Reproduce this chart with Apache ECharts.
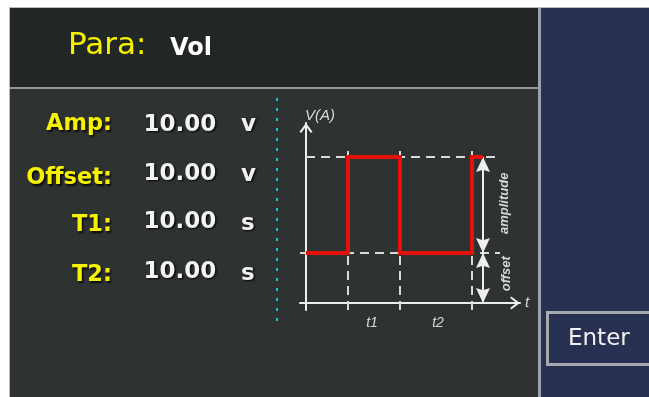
<!DOCTYPE html>
<html>
<head>
<meta charset="utf-8">
<script src="https://cdn.jsdelivr.net/npm/echarts@6/dist/echarts.min.js"></script>
<style>html,body{margin:0;padding:0;background:#fff}#c{width:649px;height:397px}</style>
</head>
<body>
<div id="c"></div>
<script>
// ---- data ----
const paraTitle = 'Para:';
const paraValue = 'Vol';
const paramLabels = ['Amp:', 'Offset:', 'T1:', 'T2:'];
const paramValues = ['10.00', '10.00', '10.00', '10.00'];
const paramUnits = ['v', 'v', 's', 's'];
// schematic square wave (diagram units)
const waveX = [0, 4.2, 4.2, 9.4, 9.4, 16.6, 16.6, 17.7];
const waveY = [5, 5, 14.6, 14.6, 5, 5, 14.6, 14.6];
const edgeX = [4.2, 9.4, 16.6];
const lowLevel = 5;
const highLevel = 14.6;
const periodLabels = ['t1', 't2'];
const measureLabels = ['amplitude', 'offset'];
const axisNames = ['t', 'V(A)'];
const buttonText = 'Enter';

// ---- styles ----
const WHITE = '#eeeeee', YELLOW = '#f6f200', GUIDE = '#d9d9d9', RED = '#e3120b', DTEXT = '#d8d8d8';
const chevron = 'path://M0,8.6 L6.5,0 L13,8.6 L11.4,9.8 L6.5,3.3 L1.6,9.8 Z';
const arrowHead = 'path://M7,0 L14,15 L7,12.8 L0,15 Z';

const chart = echarts.init(document.getElementById('c'), null, {renderer: 'canvas'});

const Y_MIN = -0.7;
const wavePoints = waveX.map((x, i) => [x, waveY[i]]);
const guideLines = edgeX.map(x => [{coord: [x, Y_MIN]}, {coord: [x, 15.3]}]).concat([
  [{coord: [0, highLevel]}, {coord: [19.2, highLevel]}],
  [{coord: [-0.6, lowLevel]}, {coord: [19.4, lowLevel]}]
]);
const arrowX = waveX[waveX.length - 1];
const measureLines = [
  [{coord: [arrowX, lowLevel]}, {coord: [arrowX, highLevel]}],
  [{coord: [arrowX, 0]}, {coord: [arrowX, lowLevel]}]
];

const axisCommon = {
  type: 'value',
  axisTick: {show: false},
  axisLabel: {show: false},
  splitLine: {show: false},
  axisLine: {
    show: true, onZero: true,
    symbol: ['none', chevron], symbolSize: [13, 10], symbolOffset: [0, -5],
    lineStyle: {color: WHITE, width: 2}
  }
};

chart.setOption({
  backgroundColor: '#ffffff',
  animation: false,
  grid: {left: 300, right: 129, top: 123, bottom: 87, containLabel: false, outerBoundsMode: 'none'},
  xAxis: Object.assign({}, axisCommon, {
    min: -0.6, max: 21.4,
    name: axisNames[0], nameLocation: 'end', nameGap: 5,
    nameTextStyle: {color: DTEXT, fontFamily: 'Liberation Sans', fontStyle: 'italic', fontSize: 15}
  }),
  yAxis: Object.assign({}, axisCommon, {min: Y_MIN, max: 18}),
  series: [
    {
      type: 'line', data: [], silent: true, z: 3,
      markLine: {
        silent: true, symbol: ['none', 'none'], label: {show: false},
        lineStyle: {color: GUIDE, width: 2, type: [9, 6]},
        emphasis: {disabled: true},
        data: guideLines
      }
    },
    {
      type: 'line', data: [], silent: true, z: 4,
      markLine: {
        silent: true, symbol: [arrowHead, arrowHead], symbolSize: [14, 15],
        symbolOffset: [[0, '50%'], [0, '50%']],
        label: {show: false},
        lineStyle: {color: WHITE, width: 2, type: 'solid'},
        emphasis: {disabled: true},
        data: measureLines
      }
    },
    {
      type: 'line', data: wavePoints, z: 20, silent: true,
      symbol: 'none', showSymbol: false,
      lineStyle: {color: RED, width: 4, join: 'miter'}
    }
  ]
});

const P = (x, y) => chart.convertToPixel({gridIndex: 0}, [x, y]);

function txt(text, x, y, font, fill, align, extra, rot) {
  const st = Object.assign({
    text: text, font: font, fill: fill,
    align: align, verticalAlign: 'middle',
    textAlign: align, textVerticalAlign: 'middle'
  }, extra || {});
  return {type: 'text', x: x, y: y, rotation: rot || 0, z: 50, silent: true, style: st};
}
const shadow = {textShadowColor: 'rgba(0,0,0,0.8)', textShadowBlur: 2, textShadowOffsetX: 1.5, textShadowOffsetY: 1.5};

const g = [
  {type: 'rect', z: -10, silent: true, shape: {x: 9, y: 7, width: 640, height: 390}, style: {fill: '#b7bbc0'}},
  {type: 'rect', z: -9, silent: true, shape: {x: 10, y: 8, width: 528, height: 79}, style: {fill: '#222725'}},
  {type: 'rect', z: -9, silent: true, shape: {x: 10, y: 87, width: 528, height: 2}, style: {fill: '#8e96a0'}},
  {type: 'rect', z: -9, silent: true, shape: {x: 10, y: 89, width: 528, height: 308}, style: {fill: '#2e3231'}},
  {type: 'rect', z: -9, silent: true, shape: {x: 538, y: 8, width: 3, height: 389}, style: {fill: '#9aa1a9'}},
  {type: 'rect', z: -9, silent: true, shape: {x: 541, y: 8, width: 108, height: 389}, style: {fill: '#283152'}},
  {type: 'rect', z: -8, silent: true, shape: {x: 547.5, y: 312.5, width: 120, height: 52}, style: {fill: 'none', stroke: '#a6a9ad', lineWidth: 3}},
  {type: 'line', z: -8, silent: true, shape: {x1: 277, y1: 98, x2: 277, y2: 325}, style: {stroke: '#1cc5d6', lineWidth: 2, lineDash: [3, 7]}}
];

// header
g.push(txt(paraTitle, 68, 46.3, 'normal 31px "DejaVu Sans"', YELLOW, 'left'));
g.push(txt(paraValue, 170, 48.7, 'bold 24px "DejaVu Sans"', '#ffffff', 'left'));

// parameter rows
const labelMid = [124.2, 178.2, 225.2, 275.2];
const valueMid = [125, 174, 222, 272];
const unitMid = [125, 175, 224, 274];
paramLabels.forEach((l, i) => {
  g.push(txt(l, 112, labelMid[i], 'bold 22.5px "DejaVu Sans"', YELLOW, 'right', shadow));
  g.push(txt(paramValues[i], 143.5, valueMid[i], 'bold 23px "DejaVu Sans"', '#f4f4f4', 'left', shadow));
  g.push(txt(paramUnits[i], 241, unitMid[i], 'bold 23px "DejaVu Sans"', '#f0f0f0', 'left', shadow));
});

// diagram texts
const yTop = P(0, 18);
g.push(txt(axisNames[1], yTop[0] - 1, yTop[1] - 7.2, 'italic 15px "Liberation Sans"', DTEXT, 'left'));
const pl1 = P((edgeX[0] + edgeX[1]) / 2, -1.9);
const pl2 = P((edgeX[1] + edgeX[2]) / 2, -1.9);
g.push(txt(periodLabels[0], pl1[0] - 2, pl1[1] + 1, 'italic 14px "Liberation Sans"', DTEXT, 'center'));
g.push(txt(periodLabels[1], pl2[0] + 2, pl2[1] + 1, 'italic 14px "Liberation Sans"', DTEXT, 'center'));
const am = P(arrowX, (lowLevel + highLevel) / 2);
const of = P(arrowX, lowLevel / 2);
g.push(txt(measureLabels[0], am[0] + 21.5, am[1] - 1.7, 'italic bold 13px "Liberation Sans"', DTEXT, 'center', null, Math.PI / 2));
g.push(txt(measureLabels[1], of[0] + 23.5, of[1] - 4.3, 'italic bold 13px "Liberation Sans"', DTEXT, 'center', null, Math.PI / 2));

// button
g.push(txt(buttonText, 568, 339, 'normal 23px "DejaVu Sans"', '#f2f2f2', 'left'));

chart.setOption({graphic: g});
</script>
</body>
</html>
